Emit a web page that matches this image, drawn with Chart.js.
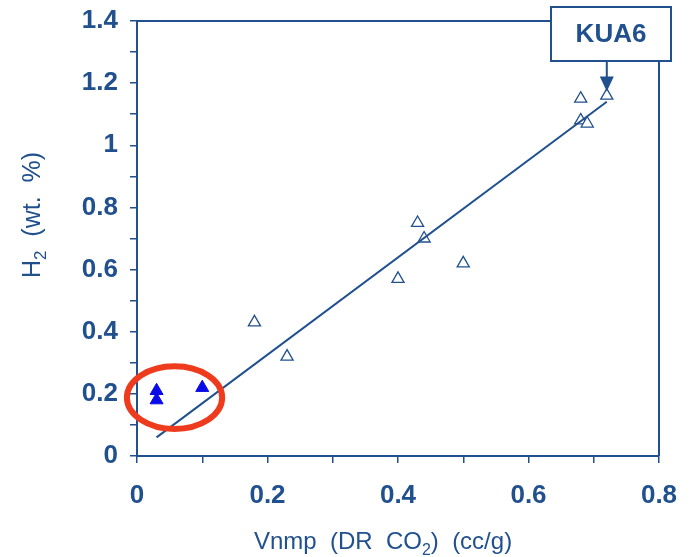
<!DOCTYPE html>
<html>
<head>
<meta charset="utf-8">
<script src="https://cdn.jsdelivr.net/npm/chart.js@4.4.0/dist/chart.umd.min.js"></script>
<style>
  html, body { margin: 0; padding: 0; background: #fff; }
  #wrap { width: 692px; height: 557px; position: relative; }
</style>
</head>
<body>
<div id="wrap"><canvas id="myScatter"></canvas></div>
<script>
// open triangles (samples)
const openX = [0.18, 0.23, 0.40, 0.43, 0.44, 0.50, 0.68, 0.68, 0.69, 0.72];
const openY = [0.43, 0.32, 0.57, 0.75, 0.70, 0.62, 1.15, 1.08, 1.07, 1.16];
// filled triangles (circled ones)
const filledX = [0.03, 0.03, 0.10];
const filledY = [0.21, 0.18, 0.22];
// trend line end points
const fitX = [0.03, 0.72];
const fitY = [0.06, 1.14];
// red ellipse: centre and half sizes in data units
const ringCenter = [0.0575, 0.188];
const ringHalf = [0.073, 0.101];
const calloutLabel = 'KUA6';
const calloutIndex = 9; // KUA6 is the last open triangle

const xTicks = [0, 0.2, 0.4, 0.6, 0.8];
const yTicks = [0, 0.2, 0.4, 0.6, 0.8, 1, 1.2, 1.4];

const blue = '#20508e';
const font = '"Liberation Sans", Arial, sans-serif';

function pts(xs, ys) {
  return xs.map((x, i) => ({ x: x, y: ys[i] }));
}

function fmt(v) {
  const r = Math.round(v * 10);
  if (r % 2 !== 0) return '';
  const s = String(+(r / 10).toFixed(1));
  return (xTicks.includes(+s) || yTicks.includes(+s)) ? s : '';
}

// frame, ellipse, callout box and axis titles
const extras = {
  id: 'extras',
  afterDatasetsDraw(chart) {
    const c = chart.ctx;
    const a = chart.chartArea;
    const xs = chart.scales.x, ys = chart.scales.y;
    c.save();

    // right + top frame
    c.strokeStyle = blue;
    c.lineWidth = 2;
    c.beginPath();
    c.moveTo(a.left, a.top);
    c.lineTo(a.right, a.top);
    c.lineTo(a.right, a.bottom);
    c.stroke();

    // red ring
    const cx = xs.getPixelForValue(ringCenter[0]);
    const cy = ys.getPixelForValue(ringCenter[1]);
    const rx = xs.getPixelForValue(ringCenter[0] + ringHalf[0]) - cx;
    const ry = cy - ys.getPixelForValue(ringCenter[1] + ringHalf[1]);
    c.strokeStyle = '#ee3b1d';
    c.lineWidth = 6;
    c.beginPath();
    c.ellipse(cx, cy, rx, ry, 0, 0, Math.PI * 2);
    c.stroke();

    // callout box
    const px = xs.getPixelForValue(openX[calloutIndex]);
    const py = ys.getPixelForValue(openY[calloutIndex]);
    const bx = 551, by = 7, bw = 120, bh = 54;
    c.fillStyle = '#fff';
    c.fillRect(bx, by, bw, bh);
    c.strokeStyle = blue;
    c.lineWidth = 2;
    c.strokeRect(bx, by, bw, bh);
    c.fillStyle = blue;
    c.font = 'bold 26px ' + font;
    c.textAlign = 'center';
    c.textBaseline = 'middle';
    c.fillText(calloutLabel, bx + bw / 2, by + bh / 2 + 1);

    // arrow
    const tipY = py - 4;
    c.beginPath();
    c.moveTo(px, by + bh);
    c.lineTo(px, tipY - 12);
    c.stroke();
    c.beginPath();
    c.moveTo(px - 7, tipY - 15);
    c.lineTo(px + 7, tipY - 15);
    c.lineTo(px, tipY);
    c.closePath();
    c.fill();

    // x title with subscript
    c.textBaseline = 'alphabetic';
    c.textAlign = 'left';
    const parts = [['Vnmp  (DR  CO', 0], ['2', 1], [')  (cc/g)', 0]];
    let w = 0;
    parts.forEach(p => {
      c.font = (p[1] ? '16px ' : '24px ') + font;
      w += c.measureText(p[0]).width;
    });
    let tx = 383 - w / 2;
    const tyb = 549;
    parts.forEach(p => {
      c.font = (p[1] ? '16px ' : '24px ') + font;
      c.fillText(p[0], tx, tyb + (p[1] ? 6 : 0));
      tx += c.measureText(p[0]).width;
    });

    // y title, rotated
    c.save();
    c.translate(40, 215);
    c.rotate(-Math.PI / 2);
    const yparts = [['H', 0], ['2', 1], ['  (wt.  %)', 0]];
    w = 0;
    yparts.forEach(p => {
      c.font = (p[1] ? '17px ' : '25px ') + font;
      w += c.measureText(p[0]).width;
    });
    tx = -w / 2;
    yparts.forEach(p => {
      c.font = (p[1] ? '17px ' : '25px ') + font;
      c.fillText(p[0], tx, p[1] ? 6 : 0);
      tx += c.measureText(p[0]).width;
    });
    c.restore();

    c.restore();
  }
};

const ctx = document.getElementById('myScatter').getContext('2d');
const chart = new Chart(ctx, {
  type: 'scatter',
  data: {
    datasets: [{
      type: 'line',
      data: pts(fitX, fitY),
      borderColor: blue,
      borderWidth: 2,
      pointRadius: 0,
      fill: false
    }, {
      data: pts(openX, openY),
      pointStyle: 'triangle',
      pointRadius: 7,
      borderWidth: 1.3,
      borderColor: blue,
      backgroundColor: '#fff'
    }, {
      data: pts(filledX, filledY),
      pointStyle: 'triangle',
      pointRadius: 7.5,
      borderWidth: 1,
      borderColor: '#0a0ae6',
      backgroundColor: '#0a0ae6'
    }]
  },
  options: {
    responsive: true,
    maintainAspectRatio: false,
    animation: false,
    layout: { padding: { left: 0, top: 21, right: 33, bottom: 0 } },
    plugins: {
      legend: { display: false },
      tooltip: { enabled: false }
    },
    scales: {
      x: {
        type: 'linear',
        min: 0,
        max: 0.8,
        afterFit: s => {
          s.height = 101;
          s.paddingLeft = 0;
          s.paddingRight = 0;
        },
        ticks: {
          stepSize: 0.1,
          autoSkip: false,
          maxRotation: 0,
          padding: 17,
          color: blue,
          font: { family: font, size: 26, weight: 'bold' },
          callback: v => fmt(v)
        },
        grid: { drawOnChartArea: false, tickLength: 7, color: blue, lineWidth: 1.5 },
        border: { display: true, color: blue, width: 2 }
      },
      y: {
        type: 'linear',
        min: 0,
        max: 1.4,
        afterFit: s => {
          s.width = 137;
          s.paddingTop = 0;
          s.paddingBottom = 0;
        },
        ticks: {
          stepSize: 0.1,
          autoSkip: false,
          padding: 12,
          color: blue,
          font: { family: font, size: 26, weight: 'bold' },
          callback: v => fmt(v)
        },
        grid: { drawOnChartArea: false, tickLength: 7, color: blue, lineWidth: 1.5 },
        border: { display: true, color: blue, width: 2 }
      }
    }
  },
  plugins: [extras]
});
</script>
</body>
</html>
